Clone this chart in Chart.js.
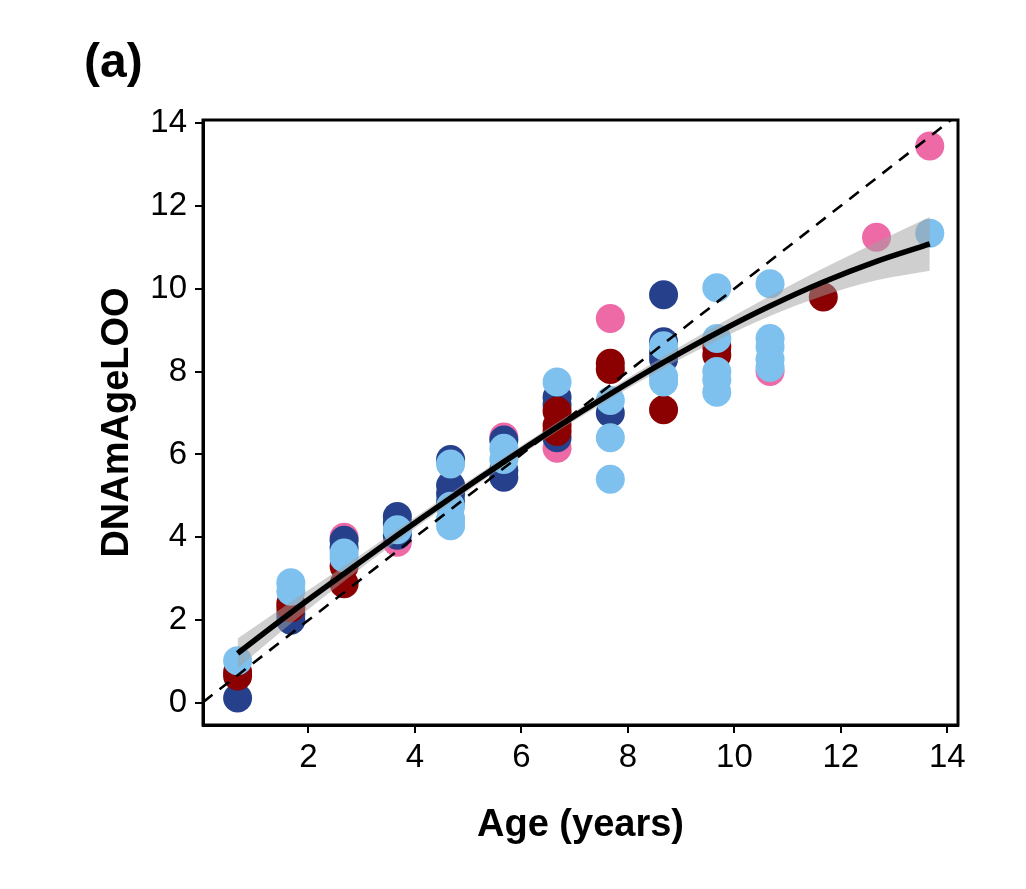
<!DOCTYPE html>
<html>
<head>
<meta charset="utf-8">
<script src="https://cdn.jsdelivr.net/npm/chart.js@4/dist/chart.umd.min.js"></script>
<style>
  html, body { margin: 0; padding: 0; background: #ffffff; }
  #wrap { width: 1026px; height: 889px; }
</style>
</head>
<body>
<div id="wrap"><canvas id="c" width="1026" height="889"></canvas></div>
<script>
// ---- data ----
const panelLabel = '(a)';
const xTitle = 'Age (years)';
const yTitle = 'DNAmAgeLOO';
const xTicks = [2, 4, 6, 8, 10, 12, 14];
const yTicks = [0, 2, 4, 6, 8, 10, 12, 14];
const xLimits = [0.02, 14.2];
const yLimits = [-0.53, 14.07];

const pinkAge  = [2.67, 3.67, 5.67, 6.67, 7.67, 10.67, 12.67, 13.67];
const pinkDNAm = [4.0, 3.88, 6.42, 6.15, 9.28, 8.0, 11.24, 13.44];

const redAge  = [0.67, 0.67, 1.67, 1.67, 2.67, 2.67, 6.67, 6.67, 6.67, 7.67, 7.67, 8.67, 9.67, 9.67, 11.67];
const redDNAm = [0.75, 0.65, 2.4, 2.3, 3.3, 2.88, 7.05, 6.7, 6.55, 8.2, 8.05, 7.08, 8.6, 8.4, 9.8];

const navyAge  = [0.67, 1.67, 1.67, 2.67, 2.67, 3.67, 3.67, 3.67, 4.67, 4.67, 4.67, 4.67, 5.67, 5.67, 5.67, 6.67, 6.67, 6.67, 7.67, 8.67, 8.67, 8.67, 8.67];
const navyDNAm = [0.12, 2.0, 2.15, 3.93, 3.75, 4.5, 4.35, 4.05, 5.88, 5.25, 5.05, 4.85, 6.35, 5.62, 5.45, 7.38, 7.2, 6.4, 7.0, 9.85, 8.72, 8.45, 8.3];

const skyAge  = [0.67, 1.67, 1.67, 2.67, 2.67, 3.67, 4.67, 4.67, 4.67, 4.67, 5.67, 5.67, 6.67, 7.67, 7.67, 7.67, 8.67, 8.67, 8.67, 9.67, 9.67, 9.67, 9.67, 9.67, 10.67, 10.67, 10.67, 10.67, 10.67, 13.67];
const skyDNAm = [1.02, 2.9, 2.7, 3.62, 3.5, 4.18, 5.77, 4.75, 4.45, 4.28, 6.15, 5.88, 7.75, 7.3, 6.4, 5.4, 8.62, 7.88, 7.75, 10.02, 8.8, 8.0, 7.8, 7.5, 10.12, 8.8, 8.6, 8.3, 8.1, 11.34];

const fitAge   = [0.67, 1.67, 2.67, 3.67, 4.67, 5.67, 6.67, 7.67, 8.67, 9.67, 10.67, 11.67, 12.67, 13.67];
const fitMid   = [1.2, 2.18, 3.12, 4.05, 4.95, 5.82, 6.66, 7.46, 8.22, 8.93, 9.58, 10.16, 10.66, 11.08];
const fitUpper = [1.56, 2.44, 3.30, 4.19, 5.07, 5.93, 6.77, 7.58, 8.36, 9.11, 9.82, 10.49, 11.12, 11.73];
const fitLower = [0.84, 1.92, 2.94, 3.91, 4.83, 5.71, 6.55, 7.34, 8.08, 8.75, 9.34, 9.83, 10.20, 10.43];

// ---- helpers ----
const pts = (xs, ys) => xs.map((x, i) => ({ x: x, y: ys[i] }));
const FONT = '"Liberation Sans", Arial, Helvetica, sans-serif';

const pointDs = (label, xs, ys, color) => ({
  label: label,
  data: pts(xs, ys),
  showLine: false,
  pointRadius: 14.5,
  pointHoverRadius: 14.5,
  pointBorderWidth: 0,
  backgroundColor: color,
  borderColor: color
});

const framePlugin = {
  id: 'frame',
  afterDraw(chart) {
    const { ctx, chartArea: a } = chart;
    ctx.save();
    ctx.strokeStyle = '#000';
    ctx.lineWidth = 3;
    ctx.strokeRect(a.left, a.top, a.right - a.left, a.bottom - a.top);
    ctx.fillStyle = '#000';
    ctx.font = 'bold 48px ' + FONT;
    ctx.textBaseline = 'alphabetic';
    ctx.textAlign = 'left';
    ctx.fillText(panelLabel, 84, 77);
    ctx.restore();
  }
};

new Chart(document.getElementById('c'), {
  type: 'scatter',
  data: {
    datasets: [
      {
        label: 'fit',
        type: 'line',
        data: pts(fitAge, fitMid),
        borderColor: '#000000',
        borderWidth: 5.5,
        pointRadius: 0,
        fill: false,
        cubicInterpolationMode: 'monotone'
      },
      {
        label: 'identity',
        type: 'line',
        data: pts(xLimits, xLimits),
        borderColor: '#000000',
        borderWidth: 2.6,
        borderDash: [12, 9],
        pointRadius: 0,
        fill: false
      },
      {
        label: 'upper',
        type: 'line',
        data: pts(fitAge, fitUpper),
        borderColor: 'rgba(0,0,0,0)',
        borderWidth: 0,
        pointRadius: 0,
        backgroundColor: 'rgba(160,160,160,0.5)',
        fill: '+1',
        cubicInterpolationMode: 'monotone'
      },
      {
        label: 'lower',
        type: 'line',
        data: pts(fitAge, fitLower),
        borderColor: 'rgba(0,0,0,0)',
        borderWidth: 0,
        pointRadius: 0,
        fill: false,
        cubicInterpolationMode: 'monotone'
      },
      pointDs('sky', skyAge, skyDNAm, '#7EC0EE'),
      pointDs('darkred', redAge, redDNAm, '#8B0000'),
      pointDs('navy', navyAge, navyDNAm, '#27408B'),
      pointDs('pink', pinkAge, pinkDNAm, '#EE6AA7')
    ]
  },
  options: {
    responsive: false,
    animation: false,
    devicePixelRatio: 1,
    layout: { padding: { top: 120, right: 68, left: 0, bottom: 0 } },
    plugins: {
      legend: { display: false },
      tooltip: { enabled: false }
    },
    scales: {
      x: {
        type: 'linear',
        min: xLimits[0],
        max: xLimits[1],
        afterBuildTicks: (s) => { s.ticks = xTicks.map(v => ({ value: v })); },
        afterFit: (s) => { s.height = 164; },
        grid: { display: true, drawOnChartArea: false, drawTicks: true, tickLength: 8, color: '#000', lineWidth: 2 },
        border: { display: true, color: '#000', width: 3 },
        ticks: { color: '#000', font: { family: FONT, size: 33 }, padding: 5, maxRotation: 0, autoSkip: false },
        title: { display: true, text: xTitle, color: '#000', font: { family: FONT, size: 38, weight: 'bold' }, padding: { top: 0, bottom: 41 } }
      },
      y: {
        type: 'linear',
        min: yLimits[0],
        max: yLimits[1],
        afterBuildTicks: (s) => { s.ticks = yTicks.map(v => ({ value: v })); },
        afterFit: (s) => { s.width = 203; },
        grid: { display: true, drawOnChartArea: false, drawTicks: true, tickLength: 8, color: '#000', lineWidth: 2 },
        border: { display: true, color: '#000', width: 3 },
        ticks: { color: '#000', font: { family: FONT, size: 33 }, padding: 8, autoSkip: false },
        title: { display: true, text: yTitle, color: '#000', font: { family: FONT, size: 38, weight: 'bold' }, padding: { top: 95, bottom: 0 } }
      }
    }
  },
  plugins: [framePlugin]
});
</script>
</body>
</html>
